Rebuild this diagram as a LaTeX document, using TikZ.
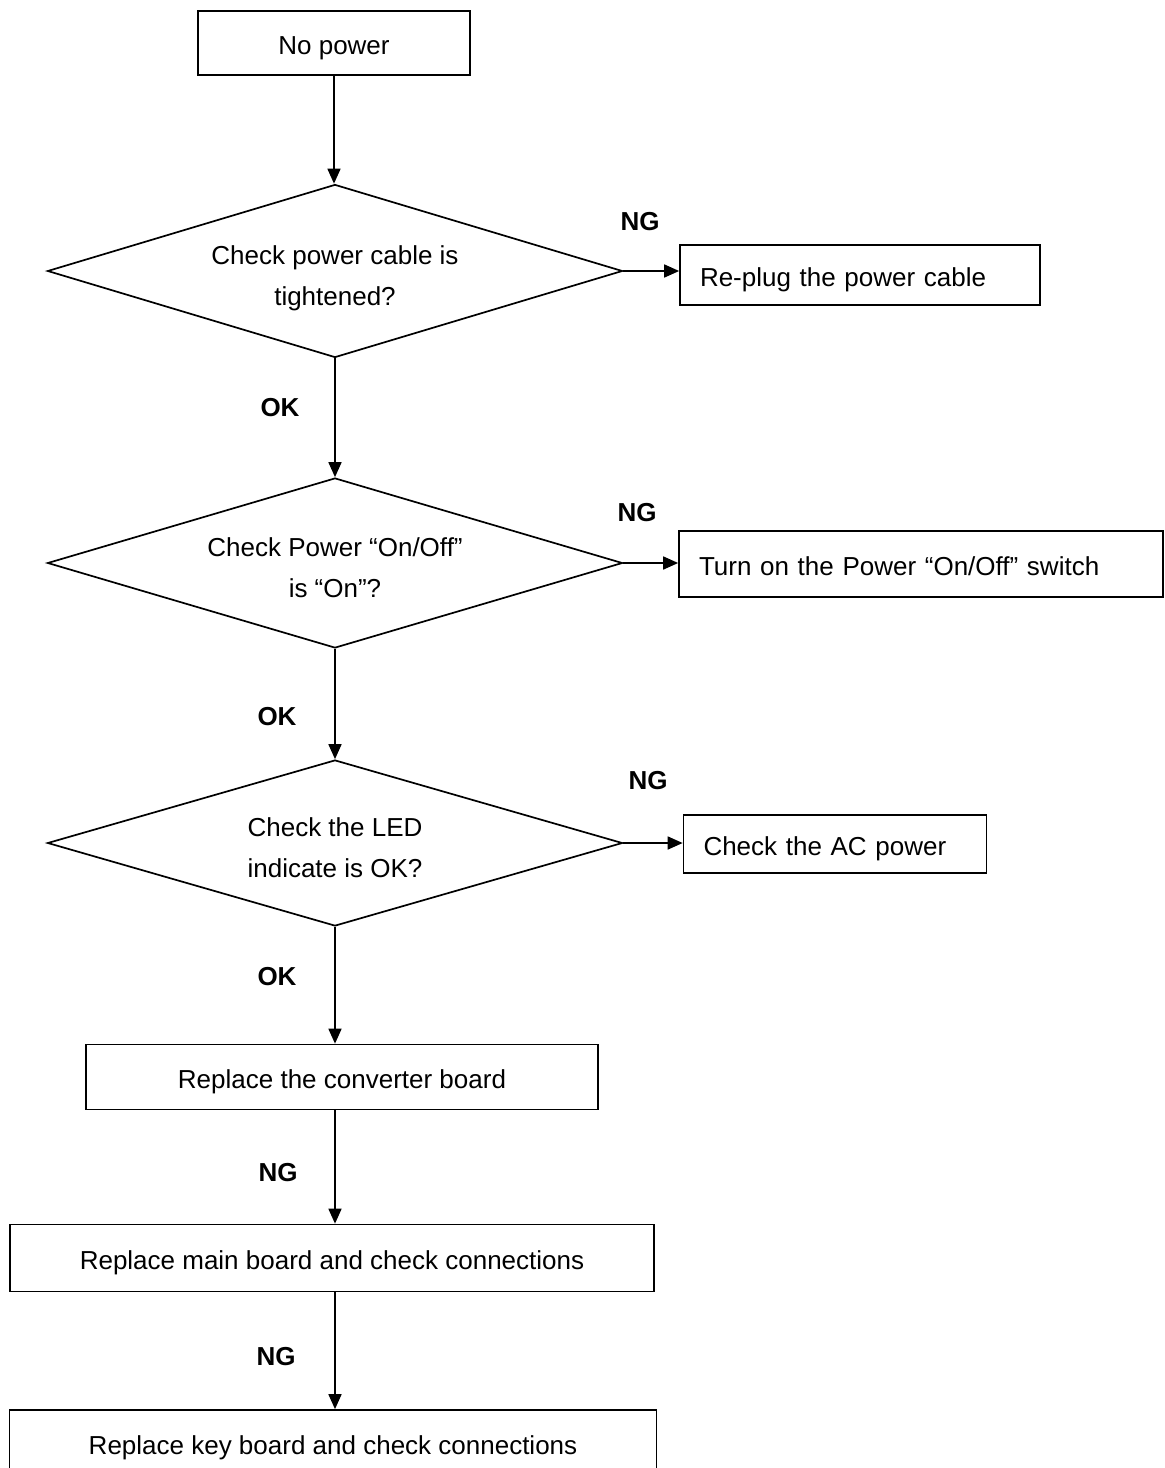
\documentclass[tikz,border=0pt]{standalone}
\usepackage{fontspec}
\setmainfont{Liberation Sans}
\usetikzlibrary{arrows.meta,positioning,shapes.geometric}

\begin{document}
\begin{tikzpicture}[x=1pt, y=-1pt,
    every node/.style={font=\fontsize{26}{41}\selectfont},
    stepbox/.style={rectangle, draw, line width=1.7pt, align=center, text height=26.5pt, text depth=3pt},
    sidebox/.style={rectangle, draw, line width=1.7pt, align=left, inner xsep=20pt, inner ysep=0pt, text height=26.5pt, text depth=3pt},
    decision/.style={diamond, draw, line width=1.7pt, aspect=3.3, inner sep=0pt, align=center, minimum width=575pt, text height=73pt, text depth=4pt},
    tag/.style={font=\fontsize{26}{30}\selectfont\bfseries},
    arrow/.style={-{Triangle[length=15pt,width=13pt]}, line width=1.7pt}
]
    \useasboundingbox (0,0) rectangle (1165,1468);

    % Main column
    \node[stepbox, minimum width=272pt, minimum height=64pt] (start) at (334,43) {No power};
    \node[decision, minimum height=173pt] (d1) at (335,271) {Check power cable is\\tightened?};
    \node[decision, minimum height=170pt] (d2) at (335,563) {Check Power “On/Off”\\is “On”?};
    \node[decision, minimum height=166pt] (d3) at (335,843) {Check the LED\\indicate is OK?};
    \node[stepbox, minimum width=512pt, minimum height=65pt] (b4) at (342,1077) {Replace the converter board};
    \node[stepbox, minimum width=644pt, minimum height=67pt] (b5) at (332,1258) {Replace main board and check connections};
    \node[stepbox, minimum width=647pt, minimum height=66pt] (b6) at (333,1443) {Replace key board and check connections};

    % NG branches
    \node[sidebox, text width=320pt, minimum height=60pt] (r1) at (860,275) {Re-plug the power cable};
    \node[sidebox, text width=444pt, minimum height=66pt] (r2) at (921,564) {Turn on the Power “On/Off” switch};
    \node[sidebox, text width=263pt, minimum height=58pt] (r3) at (835,844) {Check the AC power};

    % Arrows
    \draw[arrow] (start.south) -- (start.south |- d1.north);
    \draw[arrow] (d1.south) -- (d2.north);
    \draw[arrow] (d2.south) -- (d3.north);
    \draw[arrow] (d3.south) -- (d3.south |- b4.north);
    \draw[arrow] (d3.south |- b4.south) -- (d3.south |- b5.north);
    \draw[arrow] (d3.south |- b5.south) -- (d3.south |- b6.north);
    \foreach \d/\r in {d1/r1,d2/r2,d3/r3} \draw[arrow] (\d.east) -- (\d.east -| \r.west);

    % Labels
    \node[tag] (ng1) at (640,222) {NG};
    \node[tag] (ng2) at (637,513) {NG};
    \node[tag] (ng3) at (648,781) {NG};
    \node[tag] (ok1) at (280,408) {OK};
    \node[tag] (ok2) at (277,717) {OK};
    \node[tag] (ok3) at (277,977) {OK};
    \node[tag] (ng4) at (278,1173) {NG};
    \node[tag] (ng5) at (276,1357) {NG};
\end{tikzpicture}
\end{document}
